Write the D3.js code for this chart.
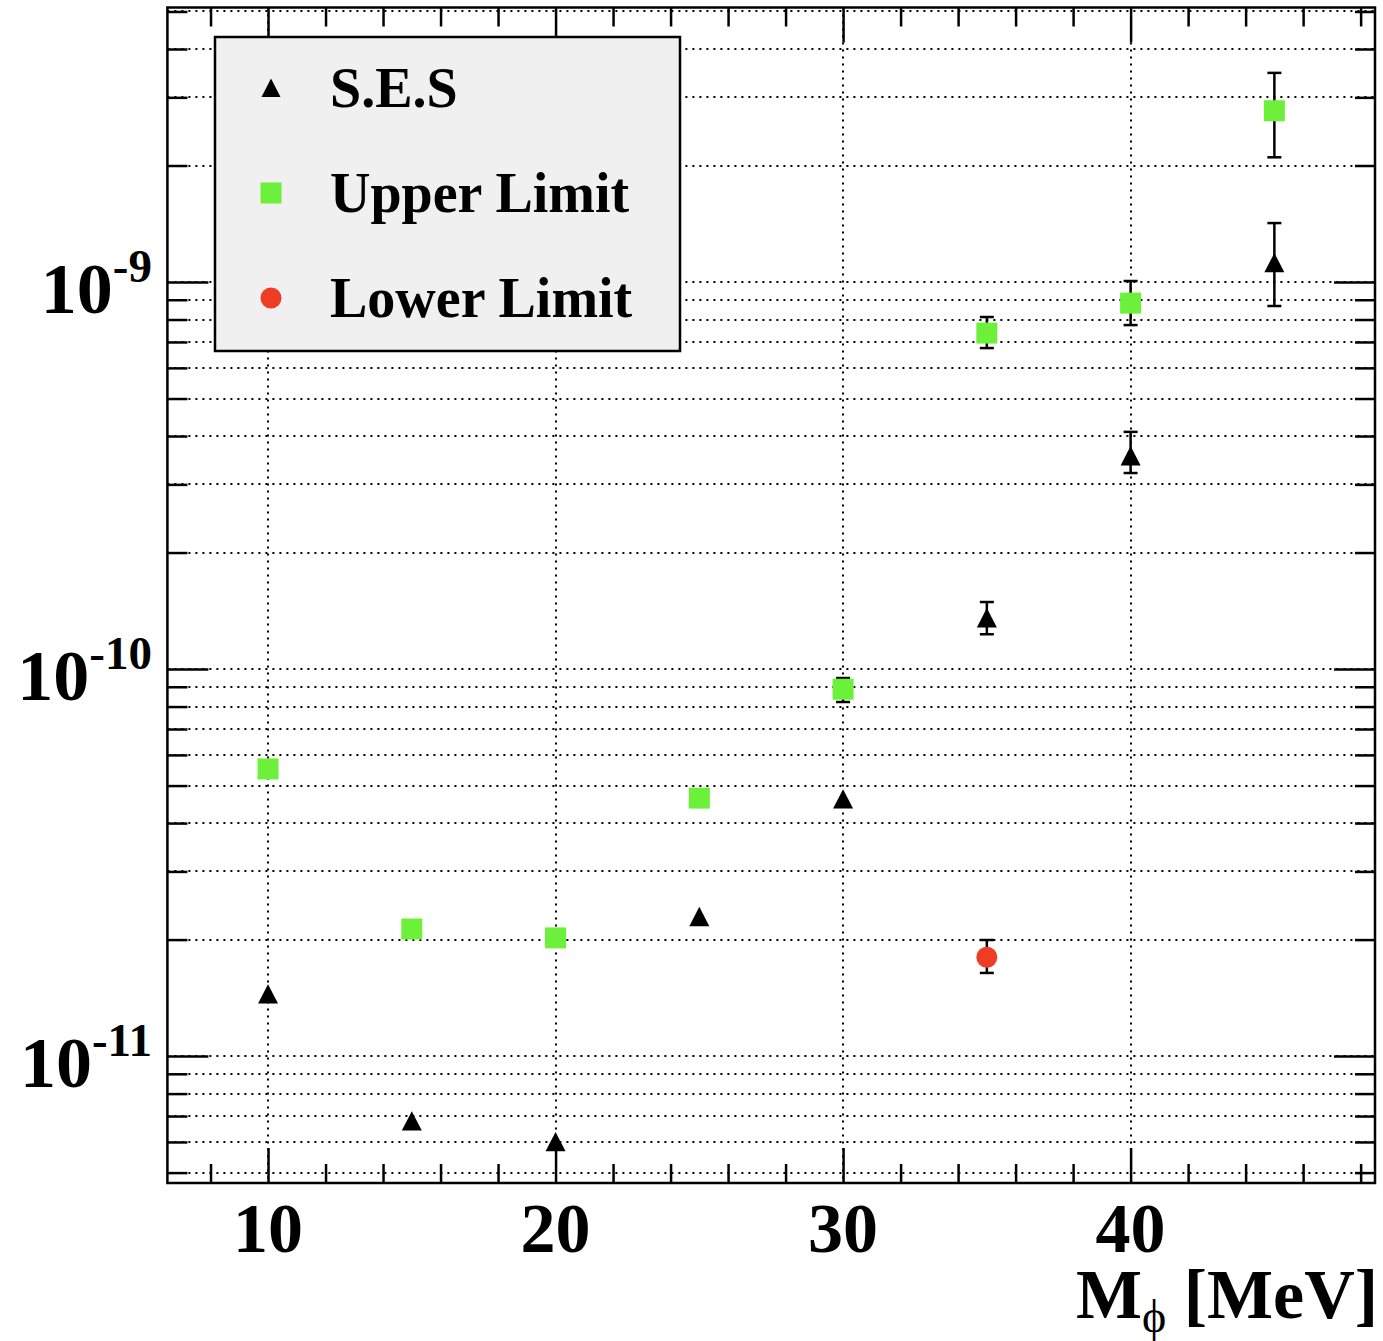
<!DOCTYPE html>
<html>
<head>
<meta charset="utf-8">
<script src="https://cdn.jsdelivr.net/npm/d3@7"></script>
<style>
  body { margin: 0; background: #fff; }
  svg text { font-family: "Liberation Serif", "Times New Roman", serif; font-weight: bold; fill: #000; }
</style>
</head>
<body>
<svg id="chart" width="1383" height="1341"></svg>
<script>
// values
const masses = [10, 15, 20, 25, 30, 35, 40, 45];
const ses = [1.445e-11, 6.79e-12, 6.0e-12, 2.29e-11, 4.61e-11, 1.355e-10, 3.55e-10, 1.12e-9];
const sesLow = [null, null, null, null, null, 1.23e-10, 3.21e-10, 8.67e-10];
const sesHigh = [null, null, null, null, null, 1.49e-10, 4.10e-10, 1.42e-9];

const upper = [5.52e-11, 2.13e-11, 2.02e-11, 4.64e-11, 8.87e-11, 7.38e-10, 8.82e-10, 2.77e-9];
const upperLow = [null, null, null, null, 8.22e-11, 6.75e-10, 7.74e-10, 2.10e-9];
const upperHigh = [null, null, null, null, 9.48e-11, 8.12e-10, 1.006e-9, 3.47e-9];

const lowerMasses = [35];
const lower = [1.80e-11];
const lowerLow = [1.64e-11];
const lowerHigh = [1.995e-11];

const xMajor = [10, 20, 30, 40];
const xMinor = [8, 12, 14, 16, 18, 22, 24, 26, 28, 32, 34, 36, 38, 42, 44, 46, 48];
const yDecades = [1e-11, 1e-10, 1e-9];
const yExponents = ["-11", "-10", "-9"];
const legendLabels = ["S.E.S", "Upper Limit", "Lower Limit"];

const green = "#6cf03a";
const red = "#ef3c24";

const svg = d3.select("#chart");
const frameL = 167.4, frameR = 1375, frameT = 7.5, frameB = 1183;

const x = d3.scaleLinear().domain([6.5, 48.5]).range([frameL, frameR]);
const y = d3.scaleLog().domain([4.7e-12, 5.12e-9]).range([frameB, frameT]);

const yAll = y.ticks();
const yMinor = yAll.filter(v => !yDecades.some(d => Math.abs(v / d - 1) < 1e-6));

// dotted grid (rounded so the dots stay crisp)
const grid = svg.append("g")
  .attr("stroke", "#000")
  .attr("stroke-width", 2)
  .attr("stroke-dasharray", "2 5");
grid.selectAll(".hg").data(yAll).enter().append("line")
  .attr("x1", frameL).attr("x2", frameR)
  .attr("y1", d => Math.round(y(d))).attr("y2", d => Math.round(y(d)));
grid.selectAll(".vg").data(xMajor).enter().append("line")
  .attr("y1", frameT).attr("y2", frameB)
  .attr("x1", d => Math.round(x(d))).attr("x2", d => Math.round(x(d)));

// ticks on all four sides
let addAxis = (axis, transform) => {
  const g = svg.append("g").attr("transform", transform).call(axis);
  g.select(".domain").remove();
  g.selectAll("line").attr("stroke", "#000").attr("stroke-width", 2.5);
  g.selectAll("text").remove();
};
addAxis(d3.axisBottom(x).tickValues(xMajor).tickSize(-35), `translate(0,${frameB})`);
addAxis(d3.axisBottom(x).tickValues(xMinor).tickSize(-19), `translate(0,${frameB})`);
addAxis(d3.axisTop(x).tickValues(xMajor).tickSize(-35), `translate(0,${frameT})`);
addAxis(d3.axisTop(x).tickValues(xMinor).tickSize(-19), `translate(0,${frameT})`);
addAxis(d3.axisLeft(y).tickValues(yDecades).tickSize(-41), `translate(${frameL},0)`);
addAxis(d3.axisLeft(y).tickValues(yMinor).tickSize(-20), `translate(${frameL},0)`);
addAxis(d3.axisRight(y).tickValues(yDecades).tickSize(-41), `translate(${frameR},0)`);
addAxis(d3.axisRight(y).tickValues(yMinor).tickSize(-20), `translate(${frameR},0)`);

// frame
svg.append("rect")
  .attr("x", frameL).attr("y", frameT)
  .attr("width", frameR - frameL).attr("height", frameB - frameT)
  .attr("fill", "none").attr("stroke", "#000").attr("stroke-width", 2.5);

// x labels
svg.selectAll(".xl").data(xMajor).enter().append("text")
  .attr("x", d => x(d)).attr("y", 1252)
  .attr("text-anchor", "middle")
  .style("font-size", "70px")
  .text(d => d);

// y labels 10^n
const yl = svg.selectAll(".yl").data(yDecades).enter().append("text")
  .attr("x", 152).attr("y", d => y(d) + 31)
  .attr("text-anchor", "end");
yl.append("tspan").style("font-size", "72px").text("10");
yl.append("tspan").style("font-size", "47px").attr("dy", -31)
  .text((d, i) => yExponents[i]);

// x title
const title = svg.append("text")
  .attr("x", 1378).attr("y", 1318)
  .attr("text-anchor", "end")
  .style("font-size", "70px");
title.append("tspan").text("M");
title.append("tspan").style("font-size", "46px").style("font-weight", "normal")
  .attr("dy", 14).text("\u03d5");
title.append("tspan").attr("dy", -14).text(" [MeV]");

// markers
const triangle = {
  draw(ctx, size) {
    const w = Math.sqrt(size);
    ctx.moveTo(0, -w * 0.5);
    ctx.lineTo(w / 2, w * 0.47);
    ctx.lineTo(-w / 2, w * 0.47);
    ctx.closePath();
  }
};
const triPath = d3.symbol().type(triangle).size(20 * 20)();
const legendTriPath = d3.symbol().type(triangle).size(19 * 19)();
const sqPath = d3.symbol().type(d3.symbolSquare).size(21 * 21)();
const circPath = d3.symbol().type(d3.symbolCircle).size(Math.PI * 10.5 * 10.5)();

let drawSeries = (xs, vals, lows, highs, path, color) => {
  const g = svg.append("g");
  const pts = xs.map((m, i) => ({ m: m, v: vals[i], lo: lows[i], hi: highs[i] }));
  const errs = pts.filter(p => p.lo !== null);
  const eg = g.append("g").attr("stroke", "#000").attr("stroke-width", 2.5);
  eg.selectAll(".bar").data(errs).enter().append("line")
    .attr("x1", p => x(p.m)).attr("x2", p => x(p.m))
    .attr("y1", p => y(p.lo)).attr("y2", p => y(p.hi));
  eg.selectAll(".capLo").data(errs).enter().append("line")
    .attr("x1", p => x(p.m) - 7).attr("x2", p => x(p.m) + 7)
    .attr("y1", p => y(p.lo)).attr("y2", p => y(p.lo));
  eg.selectAll(".capHi").data(errs).enter().append("line")
    .attr("x1", p => x(p.m) - 7).attr("x2", p => x(p.m) + 7)
    .attr("y1", p => y(p.hi)).attr("y2", p => y(p.hi));
  g.selectAll(".mk").data(pts).enter().append("path")
    .attr("d", path)
    .attr("fill", color)
    .attr("transform", p => `translate(${x(p.m)},${y(p.v)})`);
};

drawSeries(masses, upper, upperLow, upperHigh, sqPath, green);
drawSeries(masses, ses, sesLow, sesHigh, triPath, "#000");
drawSeries(lowerMasses, lower, lowerLow, lowerHigh, circPath, red);

// legend
const legend = svg.append("g");
legend.append("rect")
  .attr("x", 215).attr("y", 37).attr("width", 465).attr("height", 314)
  .attr("fill", "#f0f0f0").attr("stroke", "#000").attr("stroke-width", 2.5);
const legendRows = [88, 193, 298];
const legendMarks = [[legendTriPath, "#000"], [sqPath, green], [circPath, red]];
legendLabels.forEach((label, i) => {
  legend.append("path")
    .attr("d", legendMarks[i][0])
    .attr("fill", legendMarks[i][1])
    .attr("transform", `translate(271,${legendRows[i]})`);
  legend.append("text")
    .attr("x", 330).attr("y", legendRows[i] + 19)
    .style("font-size", "56px")
    .text(label);
});
</script>
</body>
</html>
